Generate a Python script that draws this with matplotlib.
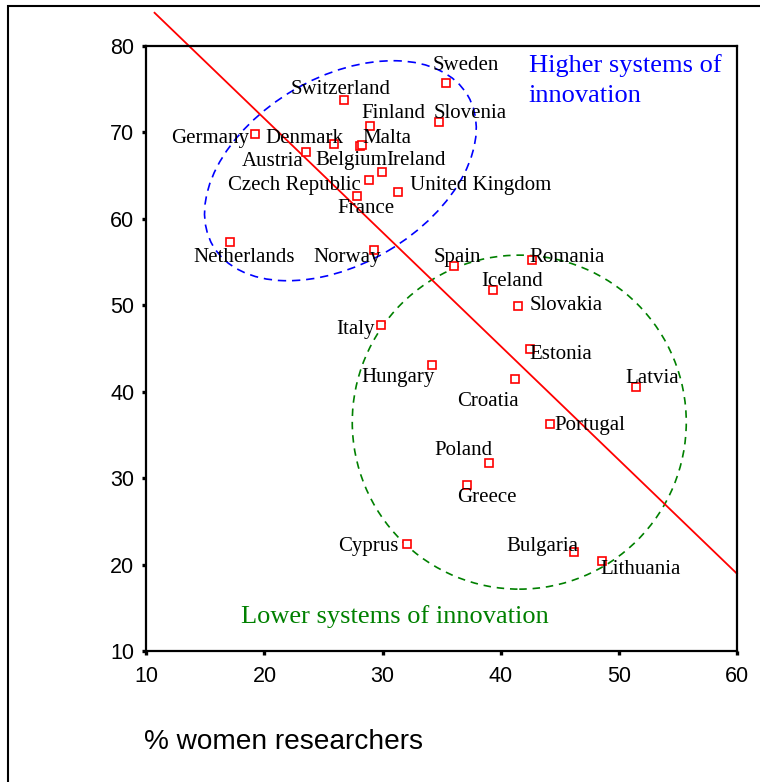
import matplotlib
matplotlib.use("Agg")
import matplotlib.pyplot as plt
from matplotlib.patches import Ellipse, Rectangle
from matplotlib.transforms import ScaledTranslation

# ---------------- data ----------------
countries = ["Sweden", "Switzerland", "Finland", "Slovenia", "Germany", "Denmark",
             "Malta", "Belgium", "Austria", "Ireland", "Czech Republic",
             "United Kingdom", "France", "Netherlands", "Norway",
             "Spain", "Romania", "Iceland", "Slovakia", "Estonia", "Hungary",
             "Italy", "Croatia", "Latvia", "Portugal", "Poland", "Greece",
             "Cyprus", "Bulgaria", "Lithuania"]
women_researchers = [35.41, 26.75, 28.95, 34.74, 19.17, 25.90,
                     28.10, 28.25, 23.54, 29.97, 28.82,
                     31.32, 27.80, 17.11, 29.29,
                     36.06, 42.66, 39.31, 41.47, 42.44, 34.20,
                     29.83, 41.17, 51.46, 44.18, 38.97, 37.11,
                     32.03, 46.24, 48.58]
innovation_index = [75.65, 73.72, 70.71, 71.20, 69.78, 68.62,
                    68.39, 68.52, 67.73, 65.38, 64.48,
                    63.06, 62.63, 57.27, 56.34,
                    54.48, 55.18, 51.70, 49.85, 44.98, 43.09,
                    47.76, 41.51, 40.58, 36.21, 31.74, 29.19,
                    22.42, 21.46, 20.38]

fit_intercept = 97.9
fit_slope = -1.316
fit_x = [10.7, 60.0]

x_ticks = [10, 20, 30, 40, 50, 60]
y_ticks = [10, 20, 30, 40, 50, 60, 70, 80]
x_label = "% women researchers"
high_text = "Higher systems of\ninnovation"
low_text = "Lower systems of innovation"

# label placement (ha, dx px, dy px screen-down), relative to the marker
label_pos = {
    "Sweden": ("left", -14, -20), "Switzerland": ("center", -4, -13),
    "Finland": ("left", -8.6, -15), "Slovenia": ("left", -4.7, -10.7),
    "Germany": ("right", -5.4, 2), "Denmark": ("right", 9, -8),
    "Malta": ("left", 2.4, -10), "Belgium": ("center", -10.5, 13),
    "Austria": ("right", -3, 7.6), "Ireland": ("left", 3.7, -13.7),
    "Czech Republic": ("right", -8, 3.6), "United Kingdom": ("left", 11.7, -8.7),
    "France": ("center", 9.7, 11), "Netherlands": ("center", 14.2, 13),
    "Norway": ("right", 6.7, 5), "Spain": ("center", 3.2, -11),
    "Romania": ("left", -2.3, -5), "Iceland": ("left", -11, -10.7),
    "Slovakia": ("left", 11.7, -2.7), "Estonia": ("left", 0.3, 3.7),
    "Hungary": ("right", 2.7, 10.7), "Italy": ("right", -5.7, 3.3),
    "Croatia": ("right", 4.6, 21.3), "Latvia": ("left", -10.6, -10),
    "Portugal": ("left", 4, -1), "Poland": ("right", 3.6, -15),
    "Greece": ("left", -9, 10.7), "Cyprus": ("right", -8.4, 0.6),
    "Bulgaria": ("right", 3.6, -7), "Lithuania": ("left", -1.6, 6.7),
}
label_shift_down = 2.0

SERIF = ["Liberation Serif", "DejaVu Serif"]
SANS = ["Liberation Sans", "DejaVu Sans"]

fig = plt.figure(figsize=(7.6, 7.82), dpi=100)
ax = fig.add_axes([146.3 / 760, 1 - 651 / 782, (737 - 146.3) / 760, (651 - 45.8) / 782])
ax.set_xlim(10, 60)
ax.set_ylim(10, 80)

# outer frame (partially outside the image)
fig.patches.append(Rectangle((7.5 / 760, -0.2), 2.0, 1.2 - 6 / 782, fill=False,
                             transform=fig.transFigure, lw=1.5, ec="black",
                             clip_on=False))

# regression line
ax.plot(fit_x, [fit_intercept + fit_slope * v for v in fit_x], color="red",
        lw=1.3, clip_on=False, zorder=2)

# group ellipses (sizes in inches around a data-space centre)
blue_centre = (26.43, 65.55)
green_centre = (41.57, 36.47)
e1 = Ellipse((0, 0), 2.958, 1.864, angle=30.6, fill=False, ec="blue", lw=1.2,
             ls=(0, (5, 3.5)),
             transform=fig.dpi_scale_trans + ScaledTranslation(*blue_centre, ax.transData))
e2 = Ellipse((0, 0), 3.34, 3.34, angle=0, fill=False, ec="green", lw=1.2,
             ls=(0, (4.5, 3.5)),
             transform=fig.dpi_scale_trans + ScaledTranslation(*green_centre, ax.transData))
ax.add_patch(e1)
ax.add_patch(e2)

# points
ax.plot(women_researchers, innovation_index, ls="none", marker="s", ms=6.2,
        mfc="white", mec="red", mew=1.2, zorder=3)

for name, xv, yv in zip(countries, women_researchers, innovation_index):
    ha, dx, dy = label_pos[name]
    ax.annotate(name, (xv, yv), xytext=(dx, -(dy + label_shift_down)),
                textcoords="offset pixels",
                ha=ha, va="center", fontsize=15, family=SERIF, color="black",
                zorder=4)

ax.text(42.38, 79.05, high_text, ha="left", va="top", color="blue",
        fontsize=19, family=SERIF, linespacing=1.5)
ax.text(18.0, 14.0, low_text, ha="left", va="center", color="green",
        fontsize=19, family=SERIF)

ax.set_xticks(x_ticks)
ax.set_yticks(y_ticks)
ax.tick_params(direction="out", length=3, width=2.4, labelsize=15.5, colors="black")
ax.tick_params(axis="y", pad=5.5)
ax.tick_params(axis="x", pad=7.5)
for lab in ax.get_xticklabels() + ax.get_yticklabels():
    lab.set_family(SANS)
for s in ax.spines.values():
    s.set_linewidth(1.6)
    s.set_color("black")

fig.text(144 / 760, 1 - 742 / 782, x_label, ha="left", va="center",
         fontsize=20.2, family=SANS)

fig.savefig("out.png", dpi=100)
